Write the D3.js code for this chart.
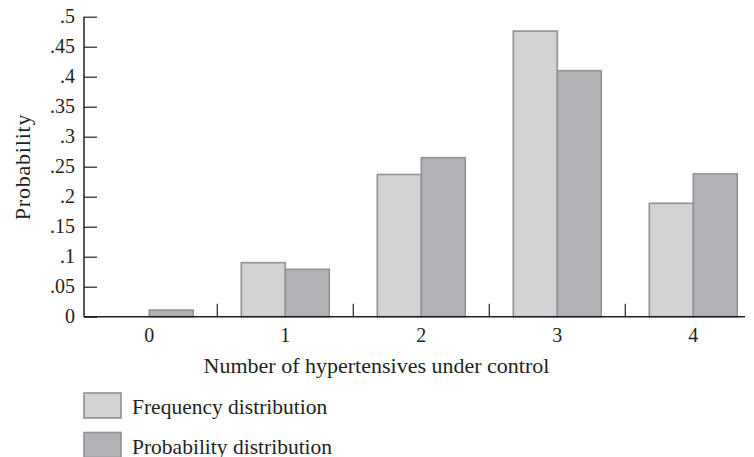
<!DOCTYPE html>
<html>
<head>
<meta charset="utf-8">
<script src="https://cdn.jsdelivr.net/npm/d3@7"></script>
<style>
  html, body { margin: 0; padding: 0; background: #fff; }
  svg { display: block; }
  text { font-family: "Liberation Serif", "DejaVu Serif", serif; fill: #231f20; }
</style>
</head>
<body>
<svg id="chart" width="754" height="457"></svg>
<script>
const categories = ["0", "1", "2", "3", "4"];
const frequencyValues = [0, 0.09, 0.237, 0.476, 0.189];
const probabilityValues = [0.011, 0.079, 0.265, 0.41, 0.238];
const seriesNames = ["Frequency distribution", "Probability distribution"];
const yTickValues = [0, 0.05, 0.1, 0.15, 0.2, 0.25, 0.3, 0.35, 0.4, 0.45, 0.5];
const yTickLabels = ["0", ".05", ".1", ".15", ".2", ".25", ".3", ".35", ".4", ".45", ".5"];

const colors = ["#d2d3d5", "#b1b2b5"];
const strokeColor = "#919294";

const svg = d3.select("#chart");
const axisLeft = 84, axisRight = 745, yTop = 16.7, yBottom = 316.7;

const x = d3.scaleBand().domain(categories).range([81.3, 81.3 + 5 * 136]).paddingInner(0).paddingOuter(0);
const y = d3.scaleLinear().domain([0, 0.5]).range([yBottom, yTop]);
const xSub = d3.scaleBand().domain([0, 1]).range([-44, 44]);

const data = categories.map((c, i) => ({ cat: c, vals: [frequencyValues[i], probabilityValues[i]] }));

// bars
const groups = svg.append("g").selectAll("g").data(data).join("g")
  .attr("transform", d => `translate(${x(d.cat) + x.bandwidth() / 2},0)`);
groups.selectAll("rect").data(d => d.vals.map((v, j) => ({ v, j }))).join("rect")
  .filter(d => d.v > 0)
  .attr("x", d => xSub(d.j))
  .attr("width", xSub.bandwidth())
  .attr("y", d => y(d.v))
  .attr("height", d => yBottom - y(d.v))
  .attr("fill", d => colors[d.j])
  .attr("stroke", strokeColor)
  .attr("stroke-width", 1.6);

// y axis
const yAxis = d3.axisRight(y).tickValues(yTickValues).tickSize(13).tickFormat(() => "");
const yg = svg.append("g").attr("transform", `translate(${axisLeft},0)`).call(yAxis);
yg.select(".domain").remove();
yg.selectAll(".tick line").attr("stroke", "#231f20").attr("stroke-width", 1.2);
svg.append("line").attr("x1", axisLeft).attr("x2", axisLeft).attr("y1", yTop).attr("y2", yBottom)
  .attr("stroke", "#231f20").attr("stroke-width", 1.5);
svg.append("g").selectAll("text").data(yTickValues).join("text")
  .attr("x", 75).attr("y", d => y(d) + 6.5)
  .attr("text-anchor", "end").attr("font-size", 20)
  .text((d, i) => yTickLabels[i]);

// x axis
svg.append("line").attr("x1", axisLeft).attr("x2", axisRight).attr("y1", yBottom).attr("y2", yBottom)
  .attr("stroke", "#231f20").attr("stroke-width", 1.5);
const sepTicks = categories.slice(1);
svg.append("g").selectAll("line").data(sepTicks).join("line")
  .attr("x1", d => x(d)).attr("x2", d => x(d))
  .attr("y1", yBottom).attr("y2", yBottom - 13)
  .attr("stroke", "#231f20").attr("stroke-width", 1.2);
svg.append("g").selectAll("text").data(categories).join("text")
  .attr("x", d => x(d) + x.bandwidth() / 2).attr("y", 342)
  .attr("text-anchor", "middle").attr("font-size", 20)
  .text(d => d);

// axis titles
svg.append("text").attr("x", 376.5).attr("y", 373).attr("text-anchor", "middle")
  .attr("font-size", 22).text("Number of hypertensives under control");
svg.append("text").attr("transform", "translate(30,167) rotate(-90)")
  .attr("text-anchor", "middle").attr("font-size", 22).attr("letter-spacing", 0.8).text("Probability");

// legend
const legend = svg.append("g").selectAll("g").data(seriesNames).join("g")
  .attr("transform", (d, i) => `translate(84,${393 + i * 39.5})`);
legend.append("rect").attr("width", 37).attr("height", 25)
  .attr("fill", (d, i) => colors[i]).attr("stroke", strokeColor).attr("stroke-width", 1.6);
legend.append("text").attr("x", 48).attr("y", 21).attr("font-size", 21.5).text(d => d);
</script>
</body>
</html>
